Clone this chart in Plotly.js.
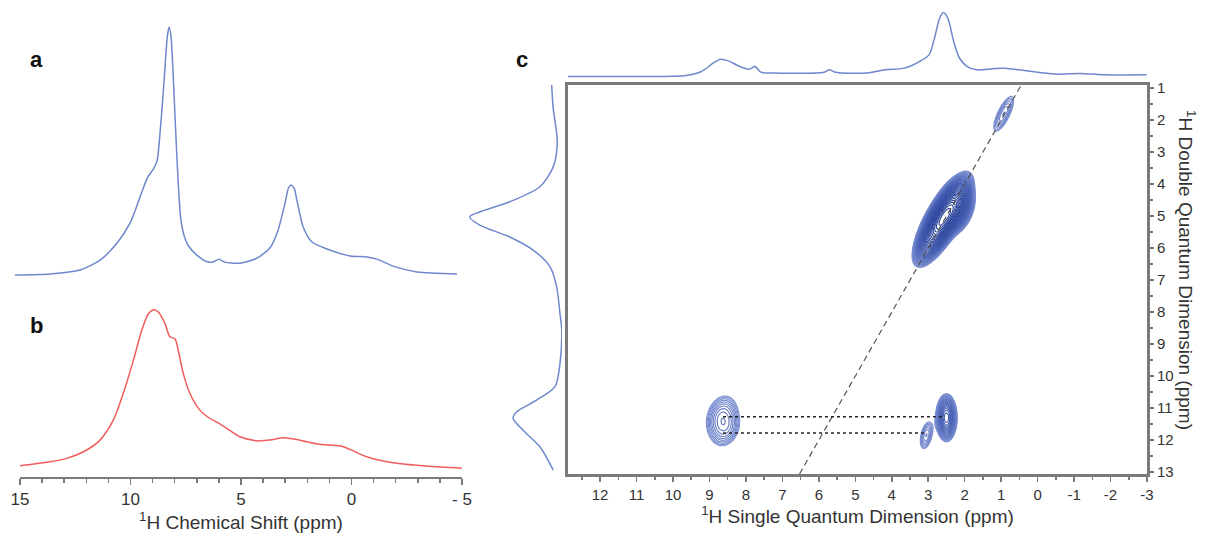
<!DOCTYPE html>
<html>
<head>
<meta charset="utf-8">
<script src="https://cdn.plot.ly/plotly-3.0.1.min.js"></script>
<style>html,body{margin:0;padding:0;background:#fff;}#chart{width:1219px;height:539px;}</style>
</head>
<body>
<div id="chart"></div>
<script>
// ---------- Panel a: 1H spectrum (blue) ----------
const aShift = [15.23, 13.64, 12.29, 11.38, 10.61, 10.02, 9.57, 9.25, 8.95, 8.8, 8.68, 8.57, 8.44, 8.34, 8.26, 8.17, 8.08, 7.97, 7.85, 7.72, 7.55, 7.4, 7.0, 6.55, 6.27, 6.0, 5.75, 5.05, 4.28, 3.69, 3.33, 3.01, 2.86, 2.74, 2.6, 2.47, 2.19, 1.79, 1.11, 0.07, -0.7, -1.15, -1.88, -2.96, -4.77];
const aInt   = [0, 0.4, 2.0, 6.0, 12.9, 21, 31.5, 39, 43, 46, 56, 68, 84, 96, 100, 96, 82, 60, 38, 22, 15, 12, 8, 5.4, 5.3, 6.4, 5.2, 4.8, 6.8, 11, 18, 29, 35, 36.3, 35, 30, 19.4, 13.3, 10.5, 7.7, 7.3, 6.4, 3.6, 1.2, 0.4];

// ---------- Panel b: 1H spectrum (red) ----------
const bShift = [15.0, 13.64, 12.89, 11.98, 11.38, 10.78, 10.33, 9.87, 9.49, 9.19, 8.94, 8.74, 8.44, 8.21, 7.99, 7.84, 7.61, 7.31, 6.86, 6.4, 6.03, 5.65, 5.05, 4.29, 3.69, 3.09, 2.48, 2.03, 1.43, 0.52, 0.07, -0.69, -1.89, -3.4, -4.99];
const bInt   = [6.7, 9.1, 11.1, 16.1, 22, 33.9, 49.8, 69.6, 87.5, 97.4, 99.8, 98.4, 91.5, 83.5, 82.5, 75.6, 61.7, 49.8, 39.9, 34.9, 32.3, 29, 24, 21.6, 22, 23.4, 22.4, 21, 19.5, 18.6, 16.5, 12.1, 8.5, 6.5, 5.2];

// ---------- Panel c: projections ----------
const topSQ  = [12.89, 11.0, 9.64, 9.22, 8.9, 8.7, 8.48, 8.17, 7.91, 7.75, 7.59, 7.23, 5.86, 5.71, 5.55, 4.71, 4.19, 3.66, 3.24, 2.98, 2.83, 2.69, 2.58, 2.46, 2.3, 2.14, 1.93, 1.67, 1.25, 0.94, 0.52, 0.0, -0.53, -1.16, -1.79, -2.99];
const topInt = [0, 0, 1.6, 7.8, 20.7, 27, 24.4, 15.5, 11.4, 15.5, 6.7, 5.2, 6.7, 10.4, 6.7, 5.2, 10.4, 13, 23.3, 33.7, 59.6, 90.7, 100, 90.7, 54.4, 28.5, 15.5, 10.4, 11.9, 13, 10.4, 6.7, 3.6, 4.7, 2.6, 2.6];

const sideDQ  = [0.9, 1.63, 2.68, 3.46, 4.08, 4.55, 4.87, 5.02, 5.28, 5.65, 6.06, 6.58, 7.21, 8.04, 8.56, 9.6, 10.33, 10.75, 11.12, 11.32, 11.69, 12.21, 12.94];
const sideInt = [11.2, 9.5, 5.1, 9.5, 23.9, 56.5, 89.1, 100, 89.1, 56.5, 31.2, 13, 5.8, 2.2, 0.3, 2.2, 7.6, 27.5, 49.2, 52.9, 42.1, 23.9, 9.5];

// ---------- Panel c: 2D cross-peaks (centre SQ, centre DQ, widths, correlation, height) ----------
const peakSQ    = [0.93, 2.6, 2.25, 8.66, 8.5, 2.5, 3.05];
const peakDQ    = [1.8, 5.1, 4.75, 11.3, 11.75, 11.3, 11.85];
const peakSigSQ = [0.21, 0.27, 0.2, 0.28, 0.25, 0.13, 0.13];
const peakSigDQ = [0.42, 0.48, 0.32, 0.45, 0.35, 0.33, 0.32];
const peakRho   = [0.75, 0.75, 0.3, 0.2, 0.3, 0.0, 0.4];
const peakAmp   = [2.6, 150, 40, 3.5, 1.4, 15, 2.6];

// correlation lines (dotted): DQ level, SQ start, SQ end
const corrDQ = [11.27, 11.78];
const corrSQstart = [8.63, 8.63];
const corrSQend = [2.59, 3.03];

const sqTicks = [12, 11, 10, 9, 8, 7, 6, 5, 4, 3, 2, 1, 0, -1, -2, -3];
const sqTickText = ['12','11','10','9','8','7','6','5','4','3','2','1','0','-1','-2','-3'];
const dqTicks = [1,2,3,4,5,6,7,8,9,10,11,12,13];
const bTicks = [15, 10, 5, 0, -5];
const bTickText = ['15','10','5','0','- 5'];

const sqRange = [12.88, -3];
const dqRange = [13.06, 0.9];

// ---------- build contour grid ----------
const step = 0.025;
const gx = [], gy = [];
for (let v = -3; v <= 12.88 + 1e-9; v += step) gx.push(+v.toFixed(4));
for (let v = 0.9; v <= 13.06 + 1e-9; v += step) gy.push(+v.toFixed(4));
const z = gy.map(dq => gx.map(sq => {
  let s = 0;
  for (let k = 0; k < peakSQ.length; k++) {
    const dx = (sq - peakSQ[k]) / peakSigSQ[k];
    const dy = (dq - peakDQ[k]) / peakSigDQ[k];
    const r = peakRho[k];
    const q = (dx*dx - 2*r*dx*dy + dy*dy) / (1 - r*r);
    s += peakAmp[k] * Math.exp(-0.5*q);
  }
  return Math.log10(s + 1e-6);
}));

const blue = '#6f87cc';
const font = 'Liberation Sans, Arial, Helvetica, sans-serif';
const W = 1219, H = 539;
const px = v => v / W, py = v => 1 - v / H;

const traces = [
  {x: aShift, y: aInt, xaxis: 'x', yaxis: 'y', type: 'scatter', mode: 'lines',
   line: {color: blue, width: 1.5, shape: 'spline', smoothing: 0.7}, hoverinfo: 'skip'},
  {x: bShift, y: bInt, xaxis: 'x2', yaxis: 'y2', type: 'scatter', mode: 'lines',
   line: {color: '#f25c5c', width: 1.5, shape: 'spline', smoothing: 0.8}, hoverinfo: 'skip'},
  {x: gx, y: gy, z: z, xaxis: 'x3', yaxis: 'y3', type: 'contour', showscale: false,
   contours: {coloring: 'lines', start: 0.05, end: 2.4, size: 0.06},
   line: {width: 1.1, smoothing: 1},
   colorscale: [[0, '#7d90d2'], [0.35, '#4a62b6'], [1, '#1c3690']],
   hoverinfo: 'skip'},
  {x: [dqRange[0]/2, dqRange[1]/2], y: dqRange, xaxis: 'x3', yaxis: 'y3', type: 'scatter', mode: 'lines',
   line: {color: '#555', width: 1.2, dash: '6px,4px'}, hoverinfo: 'skip'},
  {x: [corrSQstart[0], corrSQend[0]], y: [corrDQ[0], corrDQ[0]], xaxis: 'x3', yaxis: 'y3', type: 'scatter', mode: 'lines',
   line: {color: '#222', width: 1.5, dash: 'dot'}, hoverinfo: 'skip'},
  {x: [corrSQstart[1], corrSQend[1]], y: [corrDQ[1], corrDQ[1]], xaxis: 'x3', yaxis: 'y3', type: 'scatter', mode: 'lines',
   line: {color: '#222', width: 1.5, dash: 'dot'}, hoverinfo: 'skip'},
  {x: topSQ, y: topInt, xaxis: 'x4', yaxis: 'y4', type: 'scatter', mode: 'lines',
   line: {color: blue, width: 1.5, shape: 'spline', smoothing: 0.8}, hoverinfo: 'skip'},
  {x: sideInt, y: sideDQ, xaxis: 'x5', yaxis: 'y5', type: 'scatter', mode: 'lines',
   line: {color: blue, width: 1.5, shape: 'spline', smoothing: 0.8}, hoverinfo: 'skip'}
];

const hidden = {visible: false, fixedrange: true};
const axisGray = '#7a7a7a';

const layout = {
  width: W, height: H,
  margin: {l: 0, r: 0, t: 0, b: 0},
  paper_bgcolor: '#fff', plot_bgcolor: 'rgba(0,0,0,0)',
  showlegend: false,
  font: {family: font, color: '#333'},
  // panel a
  xaxis: Object.assign({}, hidden, {domain: [px(15), px(457)], range: [15.23, -4.77], anchor: 'y'}),
  yaxis: Object.assign({}, hidden, {domain: [py(280), py(22)], range: [-2, 102], anchor: 'x'}),
  // panel b
  xaxis2: {domain: [px(20), px(462)], range: [15, -5], anchor: 'y2', automargin: false,
    showgrid: false, zeroline: false, showline: true, linecolor: axisGray, linewidth: 2,
    ticks: 'outside', ticklen: 6, tickwidth: 1.5, tickcolor: axisGray,
    tickvals: bTicks, ticktext: bTickText, tickfont: {size: 17, color: '#333'},
    minor: {dtick: 1, ticks: 'outside', ticklen: 4, tickcolor: axisGray, showgrid: false},
    title: {text: '<sup>1</sup>H Chemical Shift (ppm)', font: {size: 19, color: '#333'}, standoff: 6}},
  yaxis2: Object.assign({}, hidden, {domain: [py(477), py(301)], range: [0, 105], anchor: 'x2'}),
  // panel c main
  xaxis3: {domain: [px(568), px(1147)], range: sqRange, anchor: 'y3', automargin: false,
    showgrid: false, zeroline: false, showline: true, mirror: true, linecolor: axisGray, linewidth: 3,
    ticks: 'outside', ticklen: 5, tickwidth: 1.5, tickcolor: axisGray,
    tickvals: sqTicks, ticktext: sqTickText, tickfont: {size: 15, color: '#333'},
    minor: {dtick: 0.5, ticks: 'outside', ticklen: 3, tickcolor: axisGray, showgrid: false},
    title: {text: '<sup>1</sup>H Single Quantum Dimension (ppm)', font: {size: 19, color: '#333'}, standoff: 6}},
  yaxis3: {domain: [py(474), py(85)], range: dqRange, anchor: 'x3', side: 'right', automargin: false,
    showgrid: false, zeroline: false, showline: true, mirror: true, linecolor: axisGray, linewidth: 3,
    ticks: 'outside', ticklen: 4, tickwidth: 1.5, tickcolor: axisGray,
    tickvals: dqTicks, tickfont: {size: 15, color: '#333'},
    minor: {dtick: 0.5, ticks: 'outside', ticklen: 3, tickcolor: axisGray, showgrid: false}},
  // top projection
  xaxis4: Object.assign({}, hidden, {domain: [px(568), px(1147)], range: sqRange, anchor: 'y4'}),
  yaxis4: Object.assign({}, hidden, {domain: [py(79), py(10)], range: [-4, 104], anchor: 'x4'}),
  // side projection
  xaxis5: Object.assign({}, hidden, {domain: [px(465), px(562)], range: [105, 0], anchor: 'y5'}),
  yaxis5: Object.assign({}, hidden, {domain: [py(474), py(85)], range: dqRange, anchor: 'x5'}),
  annotations: [
    {text: '<b>a</b>', x: px(28), y: py(45), xref: 'paper', yref: 'paper', showarrow: false, font: {size: 22, color: '#111'}},
    {text: '<b>b</b>', x: px(28), y: py(325), xref: 'paper', yref: 'paper', showarrow: false, font: {size: 22, color: '#111'}},
    {text: '<b>c</b>', x: px(522), y: py(45), xref: 'paper', yref: 'paper', showarrow: false, font: {size: 22, color: '#111'}},
    {text: '<sup>1</sup>H Double Quantum Dimension (ppm)', x: px(1201), y: py(270), xref: 'paper', yref: 'paper',
     showarrow: false, textangle: 90, font: {size: 19, color: '#333'}}
  ]
};

Plotly.newPlot('chart', traces, layout, {staticPlot: true, displayModeBar: false});
</script>
</body>
</html>
